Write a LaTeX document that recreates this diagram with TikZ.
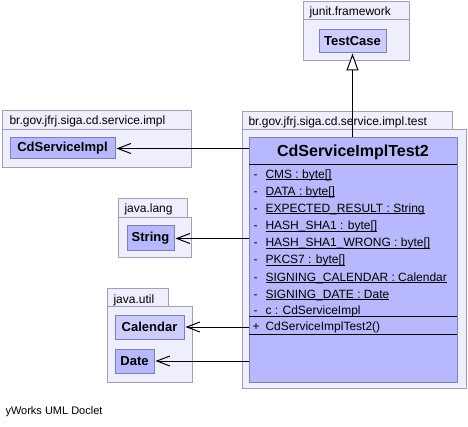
\documentclass[tikz,border=0pt]{standalone}
\usepackage{fontspec}
\setmainfont{Liberation Sans}
\usetikzlibrary{arrows.meta}
\definecolor{pkgfill}{RGB}{238,238,252}
\definecolor{pkgline}{RGB}{160,160,182}
\definecolor{clsfill}{RGB}{184,184,255}
\definecolor{absfill}{RGB}{204,204,255}
\definecolor{clsline}{RGB}{128,128,176}
\newcommand\myul[1]{\setbox0\hbox{#1}\rlap{\rule[-1.8pt]{\wd0}{0.9pt}}\box0}
\begin{document}
\begin{tikzpicture}[x=1pt,y=-1pt,line width=1pt,
  pkg/.style={draw=pkgline,fill=pkgfill},
  pkglabel/.style={anchor=base west,inner sep=0pt,font=\fontsize{12}{14}\selectfont},
  cls/.style={draw=clsline,fill=clsfill,inner sep=0pt,font=\fontsize{13}{15}\selectfont\bfseries},
  abscls/.style={cls,fill=absfill},
  row/.style={anchor=base west,inner sep=0pt,font=\fontsize{12}{14}\selectfont},
  dep/.style={draw=black,-{Straight Barb[length=13pt,width=10pt]},shorten >=1pt},
  gen/.style={draw=black,-{Triangle[length=17pt,width=12pt,fill=white]}},
  sep/.style={draw=black}]
\useasboundingbox (0,0) rectangle (468,427);

% junit.framework
\draw[pkg] (303,2) rectangle (409,20);
\draw[pkg] (303,20) rectangle (409,61);
\node[pkglabel] (lbljunit) at (309,15.5) {junit.framework};
\node[abscls,minimum width=67pt,minimum height=23pt] (tc) at (352.5,41.5) {TestCase};

% br.gov.jfrj.siga.cd.service.impl
\draw[pkg] (2,111) rectangle (191,130);
\draw[pkg] (2,130) rectangle (191,168);
\node[pkglabel] (lblimpl) at (9,125) {br.gov.jfrj.siga.cd.service.impl};
\node[cls,minimum width=105pt,minimum height=21pt] (impl) at (62.5,148.5) {CdServiceImpl};

% java.lang
\draw[pkg] (118,199) rectangle (187,218);
\draw[pkg] (118,218) rectangle (191,258);
\node[pkglabel] (lbllang) at (124,213) {java.lang};
\node[cls,minimum width=47pt,minimum height=25pt] (str) at (150.5,238.5) {String};

% java.util
\draw[pkg] (107,289) rectangle (168,307);
\draw[pkg] (107,307) rectangle (192,382);
\node[pkglabel] (lblutil) at (113,303) {java.util};
\node[abscls,minimum width=69pt,minimum height=24pt] (cal) at (149.5,327) {Calendar};
\node[cls,minimum width=39pt,minimum height=24pt] (date) at (134.5,361) {Date};

% br.gov.jfrj.siga.cd.service.impl.test
\draw[pkg] (242,112) rectangle (452,130);
\draw[pkg] (242,130) rectangle (466,388);
\node[pkglabel] (lbltest) at (248,126) {br.gov.jfrj.siga.cd.service.impl.test};
\node[cls,minimum width=208pt,minimum height=244pt] (big) at (353,260) {};
\node[inner sep=0pt,font=\fontsize{16}{18}\selectfont\bfseries] (title) at (353,152) {CdServiceImplTest2};
\draw[sep] (249,165) -- (457,165);
\draw[sep] (249,316.5) -- (457,316.5);
\draw[sep] (249,334.5) -- (457,334.5);

\foreach \y/\t [count=\i] in {178.5/{\myul{CMS : byte[]}},
  195.5/{\myul{DATA : byte[]}},
  212.5/{\myul{EXPECTED\_RESULT : String}},
  230/{\myul{HASH\_SHA1 : byte[]}},
  247/{\myul{HASH\_SHA1\_WRONG : byte[]}},
  264/{\myul{PKCS7 : byte[]}},
  281.5/{\myul{SIGNING\_CALENDAR : Calendar}},
  298.5/{\myul{SIGNING\_DATE : Date}},
  314/{c : CdServiceImpl}} {
  \node[row] (vis\i) at (253,\y) {-};
  \node[row] (att\i) at (265,\y) {\t};
}
\node[row] (visop) at (252,330.5) {+};
\node[row] (op) at (265,330.5) {CdServiceImplTest2()};

% connectors
\draw[gen] (big.north -| tc.south) -- (tc.south);
\draw[dep] (big.west |- impl.east) -- (impl.east);
\draw[dep] (big.west |- str.east) -- (str.east);
\draw[dep] (big.west |- cal.east) -- (cal.east);
\draw[dep] (big.west |- date.east) -- (date.east);

\node[anchor=base west,inner sep=0pt,font=\fontsize{11}{13}\selectfont] (credit) at (5,414) {yWorks UML Doclet};
\end{tikzpicture}
\end{document}
